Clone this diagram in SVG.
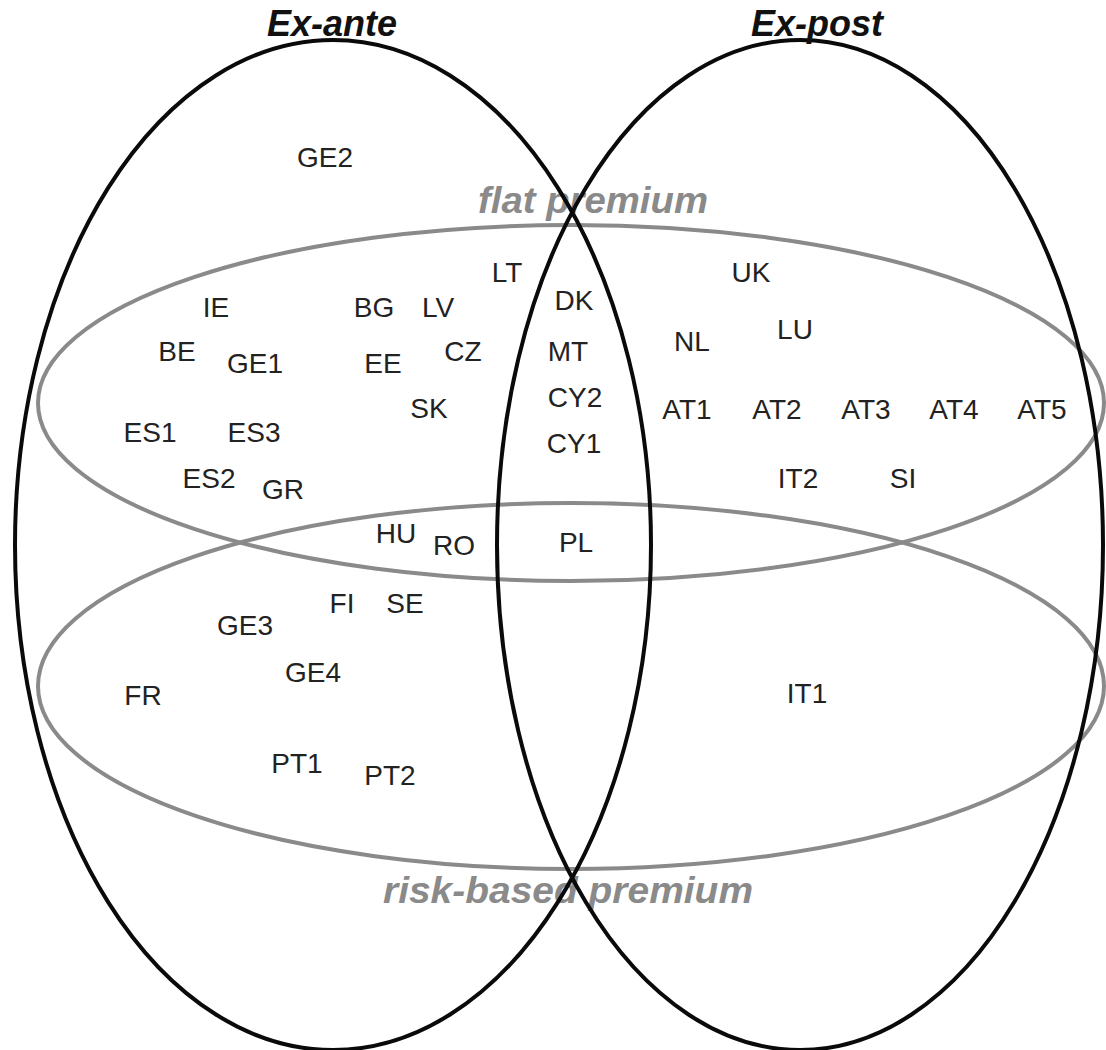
<svg xmlns="http://www.w3.org/2000/svg" width="1106" height="1050" viewBox="0 0 1106 1050">
<style>
.set{fill:none;stroke-width:4}
.black{stroke:#0a0a0a}
.gray{stroke:#8a8a8a}
.title{font-family:"Liberation Sans",Arial,sans-serif;font-weight:bold;font-style:italic;font-size:36px;text-anchor:middle}
.t-black{fill:#111}
.t-gray{fill:#8a8a8a}
.lbl{font-family:"Liberation Sans",Arial,sans-serif;font-size:28px;fill:#222;text-anchor:middle}
</style>
<rect width="1106" height="1050" fill="#fff"/>
<g id="sets-gray">
  <ellipse id="flat-premium-set" class="set gray" cx="571" cy="403" rx="533" ry="178"/>
  <ellipse id="risk-based-premium-set" class="set gray" cx="571" cy="686" rx="533" ry="183"/>
</g>
<g id="set-labels-gray">
  <text class="title t-gray" x="593" y="213" textLength="230" lengthAdjust="spacingAndGlyphs">flat premium</text>
  <text class="title t-gray" x="568" y="903" textLength="370" lengthAdjust="spacingAndGlyphs">risk-based premium</text>
</g>
<g id="sets-black">
  <ellipse id="ex-ante-set" class="set black" cx="333" cy="545" rx="318" ry="505"/>
  <ellipse id="ex-post-set" class="set black" cx="800" cy="545" rx="303" ry="505"/>
</g>
<g id="set-labels-black">
  <text class="title t-black" x="332" y="36">Ex-ante</text>
  <text class="title t-black" x="817" y="36">Ex-post</text>
</g>
<g id="members">
  <text class="lbl" x="325" y="167">GE2</text>
  <text class="lbl" x="507" y="282">LT</text>
  <text class="lbl" x="574" y="310">DK</text>
  <text class="lbl" x="751" y="282">UK</text>
  <text class="lbl" x="216" y="317">IE</text>
  <text class="lbl" x="374" y="317">BG</text>
  <text class="lbl" x="438" y="317">LV</text>
  <text class="lbl" x="795" y="339">LU</text>
  <text class="lbl" x="692" y="351">NL</text>
  <text class="lbl" x="177" y="361">BE</text>
  <text class="lbl" x="255" y="373">GE1</text>
  <text class="lbl" x="383" y="373">EE</text>
  <text class="lbl" x="463" y="361">CZ</text>
  <text class="lbl" x="568" y="361">MT</text>
  <text class="lbl" x="575" y="407">CY2</text>
  <text class="lbl" x="429" y="418">SK</text>
  <text class="lbl" x="687" y="419">AT1</text>
  <text class="lbl" x="777" y="419">AT2</text>
  <text class="lbl" x="866" y="419">AT3</text>
  <text class="lbl" x="954" y="419">AT4</text>
  <text class="lbl" x="1042" y="419">AT5</text>
  <text class="lbl" x="150" y="442">ES1</text>
  <text class="lbl" x="254" y="442">ES3</text>
  <text class="lbl" x="574" y="453">CY1</text>
  <text class="lbl" x="209" y="488">ES2</text>
  <text class="lbl" x="283" y="499">GR</text>
  <text class="lbl" x="798" y="488">IT2</text>
  <text class="lbl" x="903" y="488">SI</text>
  <text class="lbl" x="396" y="543">HU</text>
  <text class="lbl" x="454" y="555">RO</text>
  <text class="lbl" x="576" y="552">PL</text>
  <text class="lbl" x="342" y="613">FI</text>
  <text class="lbl" x="405" y="613">SE</text>
  <text class="lbl" x="245" y="635">GE3</text>
  <text class="lbl" x="313" y="682">GE4</text>
  <text class="lbl" x="143" y="705">FR</text>
  <text class="lbl" x="807" y="703">IT1</text>
  <text class="lbl" x="297" y="773">PT1</text>
  <text class="lbl" x="390" y="785">PT2</text>
</g>
</svg>
